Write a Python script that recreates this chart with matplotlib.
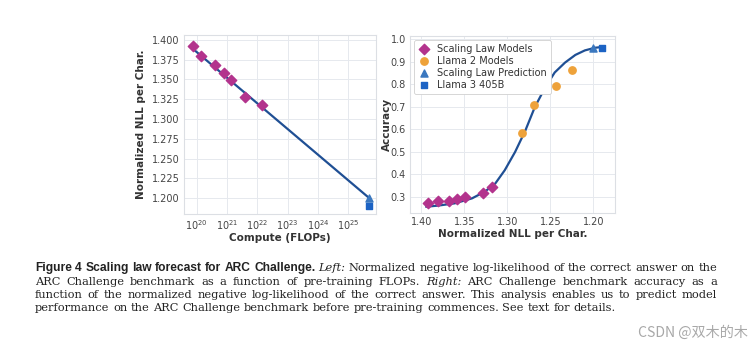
import matplotlib
matplotlib.use("Agg")
import matplotlib.pyplot as plt
import numpy as np

# ------------------------------------------------------------
# data
# ------------------------------------------------------------
sl_flops_exp = [19.89, 20.13, 20.60, 20.91, 21.12, 21.60, 22.14]   # log10 FLOPs
sl_nll = [1.392, 1.380, 1.368, 1.358, 1.349, 1.328, 1.318]
sl_acc = [0.272, 0.284, 0.284, 0.293, 0.300, 0.316, 0.343]

llama2_nll = [1.283, 1.2685, 1.244, 1.225]
llama2_acc = [0.585, 0.710, 0.794, 0.866]

pred_flops_exp = 25.69
pred_nll = 1.200
pred_acc = 0.960

l3_flops_exp = 25.69
l3_nll = 1.190
l3_acc = 0.960

# left fit line endpoints (log10 FLOPs, NLL)
fit_flops_exp = [19.89, 25.69]
fit_nll = [1.388, 1.200]

# right fit curve
curve_nll = [1.394, 1.380, 1.361, 1.341, 1.326, 1.314, 1.303, 1.291, 1.279,
             1.268, 1.256, 1.245, 1.233, 1.221, 1.210, 1.198, 1.190]
curve_acc = [0.257, 0.262, 0.272, 0.294, 0.324, 0.360, 0.419, 0.500, 0.596,
             0.700, 0.787, 0.853, 0.897, 0.931, 0.951, 0.963, 0.966]

left_yticks = [1.200, 1.225, 1.250, 1.275, 1.300, 1.325, 1.350, 1.375, 1.400]
left_xtick_exp = [20, 21, 22, 23, 24, 25]
right_xticks = [1.40, 1.35, 1.30, 1.25, 1.20]
right_yticks = [0.3, 0.4, 0.5, 0.6, 0.7, 0.8, 0.9, 1.0]

C_SL = "#b3338d"
C_L2 = "#eea23a"
C_PRED = "#3b78bf"
C_L3 = "#1c63c4"
C_LINE = "#1f4f94"
GRID = "#e6e9ee"
TICK = "#444444"

W, H = 756, 346


def style_axes(ax):
    ax.set_facecolor("white")
    ax.grid(True, color=GRID, linewidth=0.7)
    ax.set_axisbelow(True)
    for s in ax.spines.values():
        s.set_color("#dcdfe4")
        s.set_linewidth(0.8)
    ax.tick_params(length=0, labelsize=7, colors=TICK, pad=3)


fig = plt.figure(figsize=(W / 100, H / 100), dpi=100)
fig.patch.set_facecolor("white")

# ---------------- left panel ----------------
ax1 = fig.add_axes([184 / W, 1 - 214 / H, 192 / W, 179 / H])
style_axes(ax1)
flops = 10.0 ** np.array(sl_flops_exp)
ax1.plot(10.0 ** np.array(fit_flops_exp), fit_nll, color=C_LINE, lw=1.6, zorder=2)
ax1.scatter(flops, sl_nll, marker="D", s=28, color=C_SL, zorder=3)
ax1.scatter([10.0 ** pred_flops_exp], [pred_nll], marker="^", s=26, color=C_PRED, zorder=3)
ax1.scatter([10.0 ** l3_flops_exp], [l3_nll], marker="s", s=24, color=C_L3, zorder=3)
ax1.set_xscale("log")
ax1.set_xlim(10 ** 19.58, 10 ** 25.91)
ax1.set_ylim(1.180, 1.406)
ax1.set_xticks([10.0 ** e for e in left_xtick_exp])
ax1.set_xticklabels([r"$10^{%d}$" % e for e in left_xtick_exp])
ax1.xaxis.set_minor_locator(matplotlib.ticker.NullLocator())
ax1.set_yticks(left_yticks)
ax1.set_yticklabels(["%.3f" % v for v in left_yticks])
ax1.set_xlabel("Compute (FLOPs)", fontsize=7.5, fontweight="bold", color="#333333", labelpad=1)
ax1.set_ylabel("Normalized NLL per Char.", fontsize=7.5, fontweight="bold", color="#333333", labelpad=4)

# ---------------- right panel ----------------
ax2 = fig.add_axes([410 / W, 1 - 213 / H, 205 / W, 177 / H])
style_axes(ax2)
ax2.plot(curve_nll, curve_acc, color=C_LINE, lw=1.6, zorder=2)
ax2.scatter(sl_nll, sl_acc, marker="D", s=28, color=C_SL, zorder=3, label="Scaling Law Models")
ax2.scatter(llama2_nll, llama2_acc, marker="o", s=28, color=C_L2, zorder=3, label="Llama 2 Models")
ax2.scatter([pred_nll], [pred_acc], marker="^", s=26, color=C_PRED, zorder=3, label="Scaling Law Prediction")
ax2.scatter([l3_nll], [l3_acc], marker="s", s=24, color=C_L3, zorder=3, label="Llama 3 405B")
ax2.set_xlim(1.413, 1.175)
ax2.set_ylim(0.229, 1.015)
ax2.set_xticks(right_xticks)
ax2.set_xticklabels(["%.2f" % v for v in right_xticks])
ax2.set_yticks(right_yticks)
ax2.set_yticklabels(["%.1f" % v for v in right_yticks])
ax2.set_xlabel("Normalized NLL per Char.", fontsize=7.5, fontweight="bold", color="#333333", labelpad=1)
ax2.set_ylabel("Accuracy", fontsize=7.5, fontweight="bold", color="#333333", labelpad=-1)
leg = ax2.legend(loc="upper left", fontsize=7, frameon=True, handletextpad=0.8,
                 borderpad=0.4, labelspacing=0.2, borderaxespad=0.4, handlelength=1.2,
                 fancybox=True, framealpha=1.0)
leg.get_frame().set_edgecolor("#d0d0d0")
leg.get_frame().set_linewidth(0.6)
for t in leg.get_texts():
    t.set_color("#333333")

# ---------------- caption ----------------
renderer = fig.canvas.get_renderer()


def fit_size(text, target_px, **kw):
    # font size at which text has the given rendered width
    t = fig.text(0, 0, text, size=10, **kw)
    w = t.get_window_extent(renderer).width
    t.remove()
    return 10 * target_px / w


SERIF = ["DejaVu Serif"]
BOLD = ["Liberation Sans", "DejaVu Sans"]
FS = fit_size("performance on the ARC Challenge benchmark before pre-training commences. "
              "See text for details.", 583, family=SERIF)
FSB = FS * 1.05

styles = {
    "b": dict(family=BOLD, weight="bold", size=FSB),
    "i": dict(family=SERIF, style="italic", size=FS),
    "n": dict(family=SERIF, size=FS),
}

caption_lines = [
    ([("b", "Figure 4"), ("b", "Scaling law forecast for ARC Challenge."), ("i", "Left:"),
      ("n", "Normalized negative log-likelihood of the correct answer on the")], True),
    ([("n", "ARC Challenge benchmark as a function of pre-training FLOPs."), ("i", "Right:"),
      ("n", "ARC Challenge benchmark accuracy as a")], True),
    ([("n", "function of the normalized negative log-likelihood of the correct answer. "
            "This analysis enables us to predict model")], True),
    ([("n", "performance on the ARC Challenge benchmark before pre-training commences. "
            "See text for details.")], False),
]

x_left, x_right = 35, 717
line_y = [268, 282, 295.5, 308]

for (segments, justify), ypx in zip(caption_lines, line_y):
    words = []
    for key, txt in segments:
        for w in txt.split():
            words.append((key, w))
    artists = []
    widths = []
    for key, w in words:
        t = fig.text(0, 1 - ypx / H, w, color="#222222", va="center", ha="left", **styles[key])
        artists.append(t)
        widths.append(t.get_window_extent(renderer).width)
    if justify:
        gap = (x_right - x_left - sum(widths)) / (len(words) - 1)
    else:
        sp = fig.text(0, 0, "a a", **styles["n"])
        sp2 = fig.text(0, 0, "aa", **styles["n"])
        gap = sp.get_window_extent(renderer).width - sp2.get_window_extent(renderer).width
        sp.remove()
        sp2.remove()
    x = x_left
    for t, w in zip(artists, widths):
        t.set_x(x / W)
        x += w + gap

wm_fam = ["Noto Sans CJK SC", "DejaVu Sans"]
wm_size = fit_size("CSDN @双木的木", 110, family=wm_fam)
fig.text(748 / W, 1 - 333 / H, "CSDN @双木的木", ha="right", va="center", fontsize=wm_size,
         color="#a8a8a8", family=wm_fam, weight="light")

fig.savefig("out.png", dpi=100, facecolor="white")
